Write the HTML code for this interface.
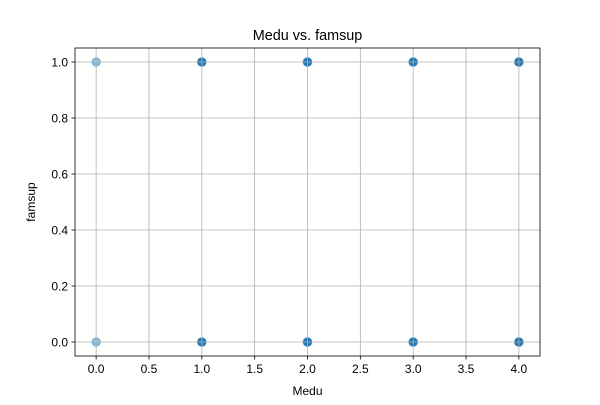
<!DOCTYPE html>
<html><head><meta charset="utf-8"><style>
body{margin:0;background:#fff;}
svg text{font-family:"Liberation Sans","DejaVu Sans",sans-serif;fill:#000;}
</style></head><body>
<svg id="chart" width="600" height="400" viewBox="0 0 600 400" xmlns="http://www.w3.org/2000/svg">
<rect width="600" height="400" fill="#fff"/>
<text x="307.5" y="40" font-size="14.4" text-anchor="middle">Medu vs. famsup</text>
<g id="points"></g>
<g id="grid"></g>
<rect x="75" y="48" width="465" height="308" fill="none" stroke="#000" stroke-width="0.8"/>
<g id="ticks"></g>
<text x="307.5" y="395" font-size="12" text-anchor="middle">Medu</text>
<text x="35" y="202" font-size="12" text-anchor="middle" transform="rotate(-90 35 202)">famsup</text>
</svg>
<script>
const medu = [0,0,1,1,2,2,3,3,4,4];
const famsup = [0,1,0,1,0,1,0,1,0,1];
const counts = [1,1,5,5,8,8,6,6,10,10];
const xTicks = [0,0.5,1,1.5,2,2.5,3,3.5,4];
const xTickLabels = ["0.0","0.5","1.0","1.5","2.0","2.5","3.0","3.5","4.0"];
const yTicks = [0,0.2,0.4,0.6,0.8,1];
const yTickLabels = ["0.0","0.2","0.4","0.6","0.8","1.0"];

const L=75,R=540,T=48,B=356, xmin=-0.2,xmax=4.2,ymin=-0.05,ymax=1.05;
const xs=v=>L+(v-xmin)/(xmax-xmin)*(R-L);
const ys=v=>B-(v-ymin)/(ymax-ymin)*(B-T);
const NS="http://www.w3.org/2000/svg";
const grid=document.getElementById('grid'), ticks=document.getElementById('ticks'), pts=document.getElementById('points');
function mk(tag,attrs,parent){const e=document.createElementNS(NS,tag);for(const k in attrs)e.setAttribute(k,attrs[k]);parent.appendChild(e);return e;}
xTicks.forEach((t,i)=>{
  const x=xs(t);
  const g=mk('line',{x1:x,x2:x,y1:T,y2:B,stroke:'#b0b0b0','stroke-width':0.8},grid);
  
  
  const tk=mk('line',{x1:x,x2:x,y1:B,y2:B+3.5,stroke:'#000','stroke-width':0.8},ticks);
  
  
  const tx=mk('text',{x:x,y:B+17,'font-size':12,'text-anchor':'middle'},ticks);
  tx.textContent=xTickLabels[i];
  
  
});
yTicks.forEach((t,i)=>{
  const y=ys(t);
  const g=mk('line',{x1:L,x2:R,y1:y,y2:y,stroke:'#b0b0b0','stroke-width':0.8},grid);
  
  
  const tk=mk('line',{x1:L-3.5,x2:L,y1:y,y2:y,stroke:'#000','stroke-width':0.8},ticks);
  
  
  const tx=mk('text',{x:L-7,y:y+4.5,'font-size':12,'text-anchor':'end'},ticks);
  tx.textContent=yTickLabels[i];
  
  
});
medu.forEach((m,i)=>{
  const op=1-Math.pow(0.5,counts[i]);
  const c=mk('circle',{cx:xs(m),cy:ys(famsup[i]),r:4.3,fill:'#1f77b4','fill-opacity':op,stroke:'#1f77b4','stroke-opacity':op*0.8,'stroke-width':1},pts);
  
  
});
</script>
</body></html>
